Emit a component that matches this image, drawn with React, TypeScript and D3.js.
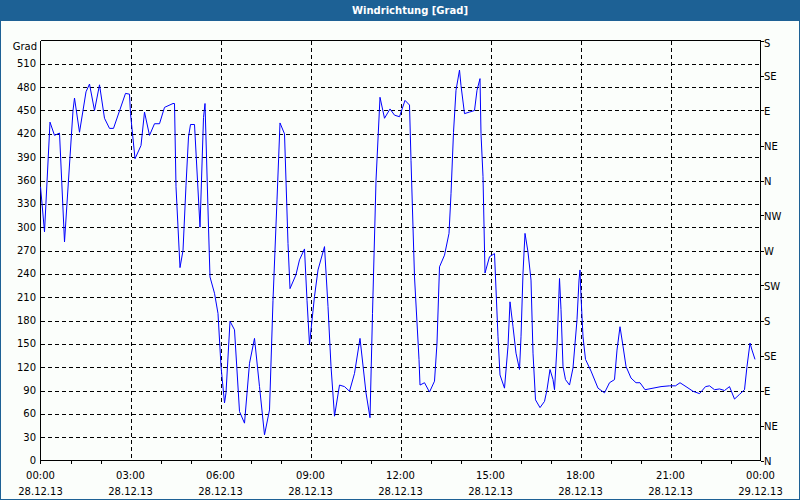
import React from 'react';
import * as d3 from 'd3';

// time in minutes since 28.12.13 00:00, wind direction in degrees
const minutes = [0,8,19,28,38,48,65,68,78,91,98,108,118,128,138,146,170,178,180,189,201,208,218,228,238,248,265,268,271,279,285,291,296,300,308,319,326,329,336,339,348,355,361,368,371,379,388,398,408,418,428,438,448,458,465,473,479,488,495,499,511,518,528,533,538,541,548,555,568,575,581,588,598,608,618,628,639,651,659,664,671,679,688,699,708,718,729,738,741,748,757,759,768,778,788,793,798,808,817,821,826,831,838,841,848,858,868,873,879,881,885,889,898,908,915,919,928,935,939,945,951,958,961,965,969,975,981,985,990,999,1008,1013,1019,1025,1028,1033,1038,1041,1045,1050,1058,1065,1073,1077,1079,1081,1085,1090,1101,1115,1128,1138,1148,1153,1159,1165,1171,1181,1191,1199,1209,1225,1241,1258,1270,1279,1291,1305,1318,1330,1338,1348,1358,1368,1378,1388,1398,1408,1413,1419,1423,1429];
const degrees = [352,294,435,418,421,281,450,466,422,474,484,450,483,440,427,427,472,471,446,388,405,448,418,433,433,454,459,459,352,248,270,354,416,432,432,300,441,459,300,236,215,189,121,74,87,179,168,63,48,125,157,95,33,65,206,335,434,420,279,221,239,258,272,206,149,168,211,245,275,198,121,57,97,95,89,112,157,87,55,189,360,467,440,452,444,442,463,457,386,236,130,97,100,88,102,151,249,264,292,343,422,476,502,482,446,448,450,476,491,420,365,241,262,266,159,110,93,147,204,172,138,117,159,241,292,268,232,138,78,68,76,91,117,104,91,147,234,194,121,104,97,119,181,232,245,211,159,130,115,93,87,100,104,142,172,147,121,106,100,100,91,93,95,96,96,100,95,89,86,95,96,91,92,90,95,79,85,91,121,151,142,130];

const yTicks = [0,30,60,90,120,150,180,210,240,270,300,330,360,390,420,450,480,510];
const compassLabels = ['N','NE','E','SE','S','SW','W','NW','N','NE','E','SE','S'];
const timeLabels = ['00:00','03:00','06:00','09:00','12:00','15:00','18:00','21:00','00:00'];
const dateLabels = ['28.12.13','28.12.13','28.12.13','28.12.13','28.12.13','28.12.13','28.12.13','28.12.13','29.12.13'];

const W = 800, H = 500;
const L = 40.5, R = 760.5, T = 40.5, B = 460.5;
const FONT = '"DejaVu Sans", Verdana, sans-serif';

export default function App() {
  const x = d3.scaleLinear().domain([0, 1440]).range([L, R]);
  const y = d3.scaleLinear().domain([0, 540]).range([B, T]);
  const pts: [number, number][] = minutes.map((m, i) => [m, degrees[i]]);
  const line = d3.line<[number, number]>().x(d => x(d[0])).y(d => y(d[1]));
  const hours = d3.range(0, 25);
  const compassVals = compassLabels.map((_, i) => i * 45);

  return (
    <svg width={W} height={H} style={{ position: 'fixed', left: 0, top: 0 }} fontFamily={FONT}>
      <rect x={0} y={0} width={W} height={H} fill="#1d6195" />
      <rect x={1} y={21} width={W - 2} height={H - 22} fill="#fbfefb" />
      <text x={410} y={14} fill="#ffffff" fontSize={10} fontWeight="bold" textAnchor="middle">Windrichtung [Grad]</text>

      {/* horizontal grid */}
      <g stroke="#000" strokeDasharray="4,3" shapeRendering="crispEdges">
        {yTicks.filter(v => v > 0).map(v => (
          <line key={'h' + v} x1={L} x2={R} y1={Math.round(y(v)) + 0.5} y2={Math.round(y(v)) + 0.5} />
        ))}
        {hours.filter(h => h % 3 === 0 && h > 0 && h < 24).map(h => (
          <line key={'v' + h} x1={Math.round(x(h * 60)) + 0.5} x2={Math.round(x(h * 60)) + 0.5} y1={T} y2={B} />
        ))}
      </g>

      {/* frame */}
      <g stroke="#000" fill="none" shapeRendering="crispEdges">
        <line x1={L} x2={R} y1={T} y2={T} />
        <line x1={L} x2={R} y1={B} y2={B} />
        <line x1={L} x2={L} y1={T} y2={B + 3} />
        <line x1={R} x2={R} y1={T} y2={B} />
        {hours.filter(h => h % 3 !== 0).map(h => (
          <line key={'t' + h} x1={Math.round(x(h * 60)) + 0.5} x2={Math.round(x(h * 60)) + 0.5} y1={B} y2={B + 3} />
        ))}
        {compassVals.map(v => (
          <line key={'c' + v} x1={R} x2={R + 3} y1={Math.round(y(v)) + 0.5} y2={Math.round(y(v)) + 0.5} />
        ))}
      </g>

      {/* data */}
      <path d={line(pts) || ''} fill="none" stroke="#0000ff" strokeWidth={1} />

      {/* left axis labels */}
      <g fontSize={10} fill="#000" textAnchor="end">
        <text x={37} y={50}>Grad</text>
        {yTicks.map(v => (
          <text key={'yl' + v} x={36} y={y(v)} dy="0.35em">{v}</text>
        ))}
      </g>

      {/* right axis labels */}
      <g fontSize={10} fill="#000" textAnchor="start">
        {compassLabels.map((c, i) => (
          <text key={'cl' + i} x={764} y={i === compassLabels.length - 1 ? y(compassVals[i]) + 3 : y(compassVals[i]) + 1} dy="0.35em">{c}</text>
        ))}
      </g>

      {/* bottom labels */}
      <g fontSize={10} fill="#000" textAnchor="middle">
        {timeLabels.map((t, i) => (
          <text key={'tl' + i} x={x(i * 180)} y={479}>{t}</text>
        ))}
        {dateLabels.map((d, i) => (
          <text key={'dl' + i} x={x(i * 180)} y={495}>{d}</text>
        ))}
      </g>
    </svg>
  );
}
